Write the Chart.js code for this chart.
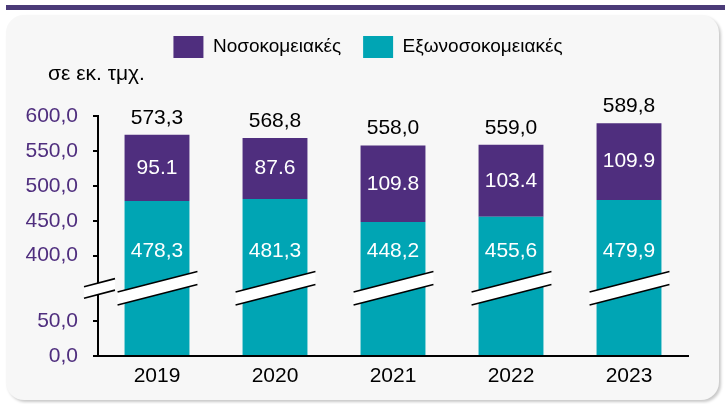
<!DOCTYPE html>
<html>
<head>
<meta charset="utf-8">
<script src="https://cdn.jsdelivr.net/npm/chart.js@4/dist/chart.umd.min.js"></script>
<style>
  html, body { margin: 0; padding: 0; background: #ffffff; }
  #wrap { position: relative; width: 725px; height: 404px; overflow: hidden; }
  #topbar { position: absolute; left: 6px; top: 5px; width: 719px; height: 5px; background: #4b3b78; }
  #panel { position: absolute; left: 6px; top: 15px; width: 713px; height: 385px; background: #f7f7f7;
           border-radius: 18px; box-shadow: 2px 2px 3px rgba(0,0,0,0.22); }
  #c { position: absolute; left: 0; top: 0; }
</style>
</head>
<body>
<div id="wrap">
  <div id="topbar"></div>
  <div id="panel"></div>
  <canvas id="c" width="725" height="404"></canvas>
</div>
<script>
// ---- data ----
const categories = ['2019', '2020', '2021', '2022', '2023'];
const hospital   = [95.1, 87.6, 109.8, 103.4, 109.9];      // Νοσοκομειακές
const outpatient = [478.3, 481.3, 448.2, 455.6, 479.9];    // Εξωνοσοκομειακές
const totals     = [573.3, 568.8, 558.0, 559.0, 589.8];
const yTickValues = [0, 50, 400, 450, 500, 550, 600];

// ---- broken axis mapping (0-50 kept, 50-400 compressed, 400+ shifted) ----
const LOW = 50, HIGH = 400, GAP = 94;
function fwd(v) {
  if (v <= LOW) return v;
  if (v >= HIGH) return v - HIGH + LOW + GAP;
  return LOW + (v - LOW) * GAP / (HIGH - LOW);
}
function inv(d) {
  if (d <= LOW) return d;
  if (d >= LOW + GAP) return d - LOW - GAP + HIGH;
  return LOW + (d - LOW) * (HIGH - LOW) / GAP;
}
const fmtComma = v => v.toFixed(1).replace('.', ',');
const PURPLE = '#4f2e7e', TEAL = '#00a5b4';
const FONT = "'Liberation Sans', Arial, sans-serif";

const tealData = outpatient.map(v => fwd(v));
const purpleData = outpatient.map((v, i) => fwd(v + hospital[i]) - fwd(v));

function drawBreak(ctx, xc, cy, x0, x1, thick, slope) {
  const yt = x => cy - thick / 2 - slope * (x - xc);
  ctx.save();
  ctx.beginPath();
  ctx.moveTo(x0, yt(x0));
  ctx.lineTo(x1, yt(x1));
  ctx.lineTo(x1, yt(x1) + thick);
  ctx.lineTo(x0, yt(x0) + thick);
  ctx.closePath();
  ctx.fillStyle = '#ffffff';
  ctx.fill();
  ctx.strokeStyle = '#000000';
  ctx.lineWidth = 1.6;
  ctx.beginPath();
  ctx.moveTo(x0, yt(x0)); ctx.lineTo(x1, yt(x1));
  ctx.moveTo(x0, yt(x0) + thick); ctx.lineTo(x1, yt(x1) + thick);
  ctx.stroke();
  ctx.restore();
}

// let the y-axis labels use the space left of the caption margin
const layoutTweak = {
  id: 'layoutTweak',
  afterLayout(chart) { chart.scales.y.left = 18; }
};

const overlay = {
  id: 'overlay',
  afterDatasetsDraw(chart) {
    const ctx = chart.ctx;
    const ys = chart.scales.y;
    const tealMeta = chart.getDatasetMeta(0);
    const purpleMeta = chart.getDatasetMeta(1);
    ctx.save();
    const tealLabelY = ys.getPixelForValue(fwd(406));
    const breakY = ys.getPixelForValue((fwd(LOW) + fwd(HIGH)) / 2);
    categories.forEach((c, i) => {
      const pb = purpleMeta.data[i];
      const tb = tealMeta.data[i];
      drawBreak(ctx, tb.x, breakY, tb.x - tb.width / 2 - 7, tb.x + tb.width / 2 + 8, 13, 0.255);
      ctx.font = '21px ' + FONT;
      ctx.textAlign = 'center';
      ctx.textBaseline = 'middle';
      ctx.fillStyle = '#ffffff';
      ctx.fillText(hospital[i].toFixed(1), pb.x, (pb.y + pb.base) / 2);
      ctx.fillText(fmtComma(outpatient[i]), tb.x, tealLabelY);
      ctx.fillStyle = '#000000';
      ctx.fillText(fmtComma(totals[i]), pb.x, pb.y - 17);
    });
    drawBreak(ctx, ys.right + 1.5, breakY, ys.right - 14, ys.right + 17, 11.5, 0.26);
    ctx.restore();
  }
};

new Chart(document.getElementById('c'), {
  type: 'bar',
  data: {
    labels: categories,
    datasets: [
      { label: 'Εξωνοσοκομειακές', data: tealData, backgroundColor: TEAL, borderWidth: 0 },
      { label: 'Νοσοκομειακές', data: purpleData, backgroundColor: PURPLE, borderWidth: 0 }
    ]
  },
  options: {
    responsive: false,
    animation: false,
    layout: { padding: { left: 48, right: 37, top: 14, bottom: 0 } },
    datasets: { bar: { categoryPercentage: 1.0, barPercentage: 0.55 } },
    plugins: {
      legend: {
        position: 'top',
        align: 'center',
        reverse: true,
        labels: {
          boxWidth: 30, boxHeight: 22, padding: 22,
          color: '#000000',
          font: { family: FONT, size: 19 }
        }
      },
      title: {
        display: true,
        text: 'σε εκ. τμχ.',
        align: 'start',
        weight: 500,
        color: '#000000',
        font: { family: FONT, size: 21, weight: 'normal' },
        padding: { top: -6, bottom: 29 }
      },
      tooltip: { enabled: false }
    },
    scales: {
      x: {
        stacked: true,
        grid: { display: false },
        border: { display: true, color: '#000000', width: 2 },
        ticks: { color: '#000000', font: { family: FONT, size: 21 }, padding: 0 },
        afterFit(s) { s.height = 48; }
      },
      y: {
        stacked: true,
        min: 0,
        max: fwd(600),
        grid: { drawOnChartArea: false, drawTicks: true, tickLength: 5, color: '#000000', lineWidth: 2 },
        border: { display: true, color: '#000000', width: 2 },
        ticks: {
          color: PURPLE,
          font: { family: FONT, size: 21 },
          padding: 15,
          callback: (val) => fmtComma(Math.round(inv(val) * 10) / 10)
        },
        afterBuildTicks(s) { s.ticks = yTickValues.map(v => ({ value: fwd(v) })); },
        afterFit(s) { s.width = 50; }
      }
    }
  },
  plugins: [layoutTweak, overlay]
});
</script>
</body>
</html>
